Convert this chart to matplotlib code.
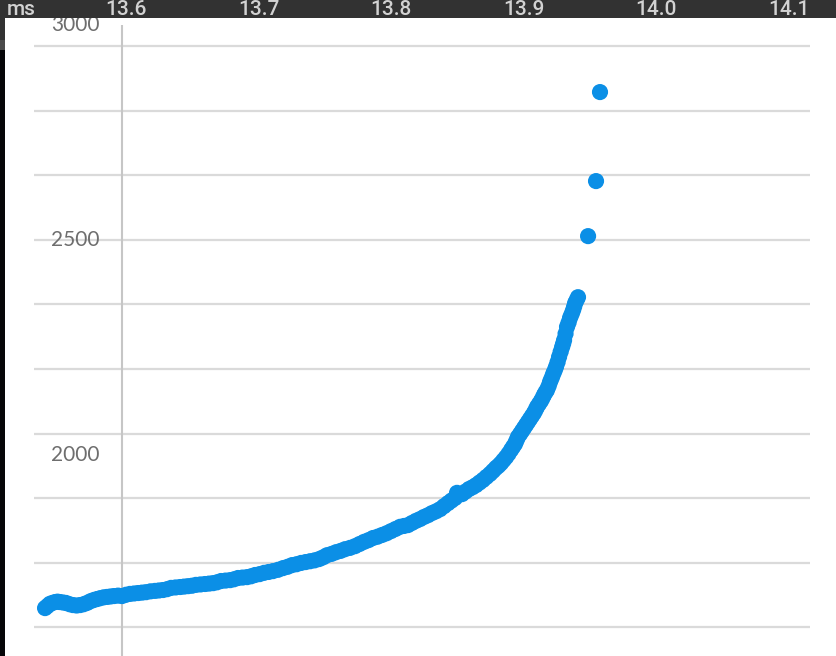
import matplotlib.pyplot as plt
from matplotlib.patches import Rectangle
from matplotlib.transforms import blended_transform_factory

# response time samples (x: ms, y: value)
time_ms = [13.5389, 13.5408, 13.5426, 13.5445, 13.5464, 13.5483, 13.5502, 13.5525,
           13.5547, 13.5574, 13.5600, 13.5627, 13.5653, 13.5680, 13.5706, 13.5732,
           13.5758, 13.5781, 13.5804, 13.5831, 13.5857, 13.5883, 13.5909, 13.5940,
           13.5970, 13.6000, 13.6030, 13.6061, 13.6091, 13.6121, 13.6151, 13.6185,
           13.6219, 13.6249, 13.6279, 13.6310, 13.6340, 13.6374, 13.6408, 13.6438,
           13.6468, 13.6498, 13.6528, 13.6562, 13.6596, 13.6627, 13.6657, 13.6687,
           13.6717, 13.6751, 13.6785, 13.6815, 13.6845, 13.6879, 13.6913, 13.6944,
           13.6974, 13.7008, 13.7042, 13.7076, 13.7109, 13.7147, 13.7185, 13.7219,
           13.7253, 13.7287, 13.7321, 13.7355, 13.7389, 13.7423, 13.7457, 13.7487,
           13.7517, 13.7551, 13.7585, 13.7619, 13.7653, 13.7690, 13.7728, 13.7762,
           13.7796, 13.7830, 13.7864, 13.7898, 13.7932, 13.7966, 13.8000, 13.8034,
           13.8068, 13.8098, 13.8128, 13.8158, 13.8189, 13.8219, 13.8249, 13.8279,
           13.8309, 13.8339, 13.8370, 13.8400, 13.8430, 13.8456, 13.8483, 13.8498,
           13.8536, 13.8562, 13.8589, 13.8615, 13.8642, 13.8668, 13.8694, 13.8720,
           13.8747, 13.8770, 13.8792, 13.8811, 13.8830, 13.8849, 13.8868, 13.8887,
           13.8906, 13.8921, 13.8936, 13.8947, 13.8958, 13.8974, 13.8989, 13.9004,
           13.9019, 13.9034, 13.9049, 13.9064, 13.9079, 13.9091, 13.9102, 13.9117,
           13.9132, 13.9144, 13.9155, 13.9166, 13.9177, 13.9189, 13.9200, 13.9212,
           13.9223, 13.9234, 13.9245, 13.9257, 13.9268, 13.9280, 13.9291, 13.9299,
           13.9306, 13.9317, 13.9328, 13.9340, 13.9351, 13.9363, 13.9374, 13.9382,
           13.9389, 13.9400, 13.9411, 13.9487, 13.9547, 13.9577]
values = [1644, 1649, 1654, 1656, 1658, 1659, 1658, 1657,
          1656, 1653, 1651, 1650, 1651, 1653, 1656, 1660,
          1663, 1665, 1667, 1669, 1670, 1671, 1672, 1673,
          1672, 1675, 1677, 1678, 1679, 1680, 1681, 1683,
          1684, 1685, 1686, 1688, 1691, 1692, 1693, 1694,
          1695, 1696, 1698, 1699, 1700, 1701, 1702, 1704,
          1707, 1708, 1709, 1711, 1714, 1715, 1716, 1718,
          1721, 1723, 1726, 1728, 1730, 1733, 1737, 1740,
          1744, 1746, 1749, 1751, 1753, 1755, 1758, 1762,
          1767, 1770, 1774, 1777, 1781, 1784, 1788, 1793,
          1798, 1802, 1807, 1810, 1814, 1818, 1823, 1828,
          1833, 1835, 1837, 1842, 1847, 1851, 1856, 1860,
          1865, 1869, 1874, 1881, 1888, 1894, 1900, 1912,
          1909, 1915, 1921, 1925, 1930, 1936, 1942, 1949,
          1956, 1963, 1970, 1975, 1981, 1988, 1995, 2003,
          2012, 2019, 2026, 2034, 2042, 2049, 2056, 2063,
          2070, 2077, 2084, 2091, 2098, 2105, 2112, 2119,
          2126, 2133, 2140, 2146, 2151, 2160, 2170, 2179,
          2188, 2196, 2205, 2216, 2228, 2240, 2251, 2259,
          2267, 2282, 2298, 2308, 2319, 2328, 2337, 2345,
          2353, 2360, 2367, 2509, 2637, 2844]

y_labels = [3000, 2500, 2000]
grid_y = [1600, 1750, 1900, 2050, 2200, 2350, 2500, 2650, 2800, 2950]
x_ticks = [13.6, 13.7, 13.8, 13.9, 14.0, 14.1]
x_tick_labels = ['13.6', '13.7', '13.8', '13.9', '14.0', '14.1']

W, H = 836, 656
fig = plt.figure(figsize=(W / 100, H / 100), dpi=100)
fig.patch.set_facecolor('white')
ax = fig.add_axes([0, 0, 1, 1])
ax.set_xlim(13.5049, 14.1358)
ax.set_ylim(1532.6, 3058.1)
ax.axis('off')

blue = '#0b8fe6'

# horizontal grid and the 13.6 marker line
ax.hlines(grid_y, 13.5306, 14.1162, color='#dadada', lw=1.6, zorder=1)
ax.vlines(13.597, 1520, 3000, color='#c6c6c6', lw=1.5, zorder=1)

ax.scatter(time_ms, values, s=135, color=blue, edgecolors='none', zorder=3)

for v in y_labels:
    ax.text(13.5615, v, str(v), ha='center', va='center', fontsize=15,
            family=['Lato', 'DejaVu Sans'], fontweight='normal', color='#6e6e6e', zorder=4)

# dark header strip and left edge
fig.add_artist(Rectangle((0, 1 - 18 / H), 1, 18 / H, transform=fig.transFigure,
                         facecolor='#323232', edgecolor='none', zorder=5))
fig.add_artist(Rectangle((0, 0), 5 / W, 1 - 50 / H, transform=fig.transFigure,
                         facecolor='#060608', edgecolor='none', zorder=5))
fig.add_artist(Rectangle((0, 1 - 50 / H), 5 / W, 10 / H, transform=fig.transFigure,
                         facecolor='#4a4a4a', edgecolor='none', zorder=5))
fig.add_artist(Rectangle((0, 1 - 40 / H), 5 / W, 22 / H, transform=fig.transFigure,
                         facecolor='#323232', edgecolor='none', zorder=5))

trans = blended_transform_factory(ax.transData, fig.transFigure)
for x, lab in zip(x_ticks, x_tick_labels):
    fig.text(x, 1 - 19 / H, lab, transform=trans, ha='center', va='bottom',
             fontsize=15, family=['Roboto', 'DejaVu Sans'], fontweight='medium',
             color='#d2d2d2', zorder=6)
fig.text(36 / W, 1 - 19 / H, 'ms', ha='right', va='bottom', fontsize=15,
         family=['Roboto', 'DejaVu Sans'], fontweight='medium', color='#d2d2d2', zorder=6)

plt.savefig('out.png', dpi=100)
